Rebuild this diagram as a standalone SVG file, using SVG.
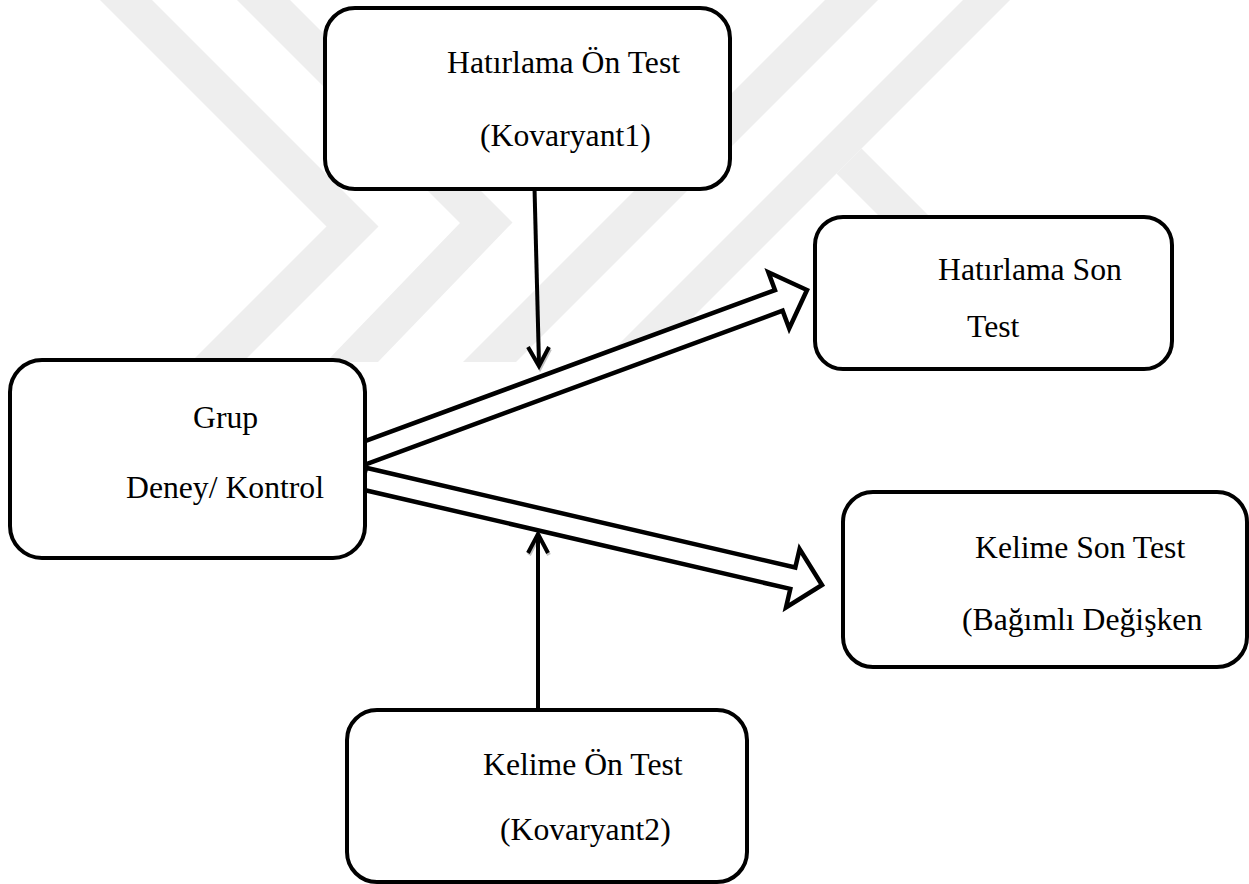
<svg xmlns="http://www.w3.org/2000/svg" width="1249" height="884" viewBox="0 0 1249 884">
<defs>
<style>
.node rect{fill:#fff;stroke:#000;stroke-width:4}
.wm{fill:#eeeeee}
.blk{fill:#fff;stroke:#000;stroke-width:4.5;stroke-linejoin:miter}
.ln{fill:none;stroke:#000;stroke-width:4}
.sh{fill:none;stroke:#9a9a9a;stroke-width:4;opacity:0.6}
</style>
<clipPath id="wmclip"><rect x="0" y="0" width="1249" height="362"/></clipPath>
</defs>
<rect width="1249" height="884" fill="#fff"/>
<g id="watermark" clip-path="url(#wmclip)">
<polygon class="wm" points="100,0 152,0 378.5,226.5 243,362 191,362 326.5,226.5"/>
<polygon class="wm" points="237,0 290,0 512.5,222.5 378,362 326,362 460,223"/>
<polygon class="wm" points="825,0 878,0 516,362 463,362"/>
<polygon class="wm" points="963,0 1010,0 648,362 601,362"/>
<polygon class="wm" points="836.5,173.5 861.5,148.5 1075,362 1025,362"/>
</g>
<g id="connectors">
<polygon class="blk" points="358.2,443.7 775.0,290.1 768.4,272.3 807,290 789.2,328.5 782.6,310.7 365.8,464.3"/>
<polygon class="blk" points="366.0,467.8 795.3,567.5 799.6,549.0 822,585 786.0,607.4 790.3,588.9 361.0,489.2"/>
<polyline class="sh" points="529,349 540,368 550,349"/>
<line class="ln" x1="534" y1="168" x2="539" y2="364"/>
<polyline class="ln" points="528,347 539,366 549,347"/>
<polyline class="sh" points="529,555 539,536 549,555"/>
<line class="ln" x1="538" y1="710" x2="538" y2="536"/>
<polyline class="ln" points="528,553 538,534 548,553"/>
</g>
<g id="n1" class="node" font-family="Liberation Serif, serif" font-size="31.7">
<rect x="325" y="8" width="405" height="181" rx="30"/>
<text x="447" y="73">Hatırlama Ön Test</text>
<text x="480" y="146">(Kovaryant1)</text>
</g>
<g id="n2" class="node" font-family="Liberation Serif, serif" font-size="31.7">
<rect x="815" y="217" width="357" height="152" rx="28"/>
<text x="938" y="280">Hatırlama Son</text>
<text x="967" y="337">Test</text>
</g>
<g id="n3" class="node" font-family="Liberation Serif, serif" font-size="31.7">
<rect x="10" y="360" width="355" height="198" rx="32"/>
<text x="193" y="428">Grup</text>
<text x="126" y="498">Deney/ Kontrol</text>
</g>
<g id="n4" class="node" font-family="Liberation Serif, serif" font-size="31.7">
<rect x="843" y="492" width="404" height="175" rx="30"/>
<text x="975" y="558">Kelime Son Test</text>
<text x="962" y="630">(Bağımlı Değişken</text>
</g>
<g id="n5" class="node" font-family="Liberation Serif, serif" font-size="31.7">
<rect x="347" y="710" width="400" height="172" rx="30"/>
<text x="483" y="775">Kelime Ön Test</text>
<text x="500" y="840">(Kovaryant2)</text>
</g>
</svg>
